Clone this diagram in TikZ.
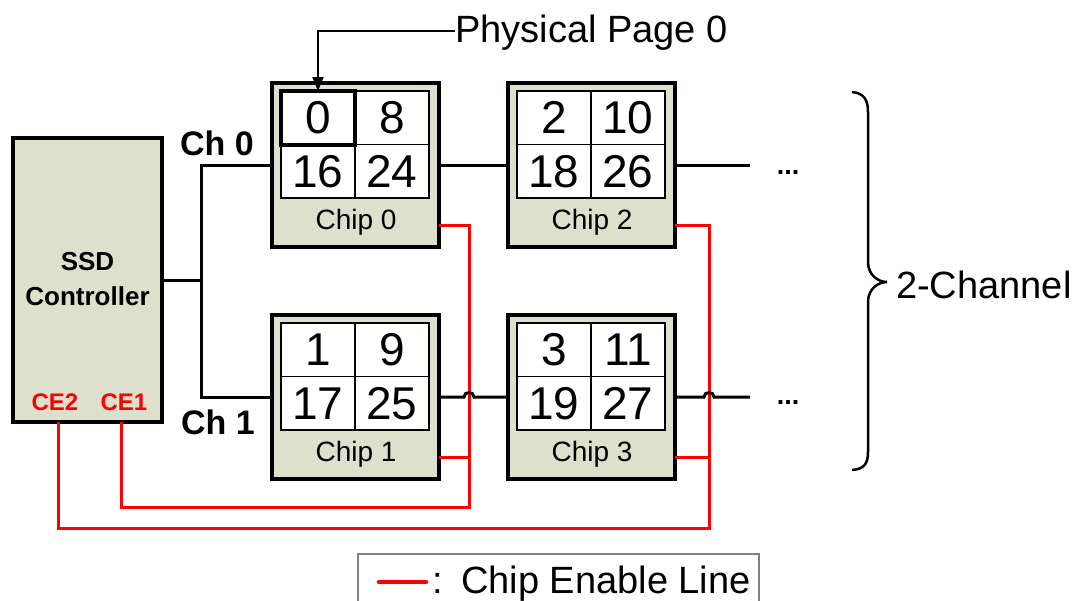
\documentclass[tikz,border=0pt]{standalone}
\usepackage{fontspec}
\setmainfont{Liberation Sans}
\usetikzlibrary{arrows.meta}
\definecolor{chipfill}{RGB}{221,224,204}
\definecolor{cered}{RGB}{255,0,0}
\begin{document}
\begin{tikzpicture}[x=1pt,y=-1pt,
  chipbox/.style={draw,line width=4pt,fill=chipfill,minimum width=167pt,minimum height=164pt,inner sep=0pt,outer sep=0pt,anchor=north west},
  ctrlbox/.style={draw,line width=4pt,fill=chipfill,minimum width=149pt,minimum height=284pt,inner sep=0pt,outer sep=0pt,anchor=north west},
  cell/.style={draw,line width=1.6pt,fill=white,minimum width=74pt,minimum height=53.5pt,inner sep=0pt,outer sep=0pt,font=\fontsize{46}{46}\selectfont},
  chiplabel/.style={inner sep=0pt,anchor=base,font=\fontsize{28}{28}\selectfont},
  boldlabel/.style={inner sep=0pt,font=\fontsize{26}{26}\selectfont\bfseries},
  chlabel/.style={inner sep=0pt,anchor=base west,font=\fontsize{34}{34}\selectfont\bfseries},
  celabel/.style={inner sep=0pt,anchor=base,text=cered,font=\fontsize{24}{24}\selectfont\bfseries},
  biglabel/.style={inner sep=0pt,font=\fontsize{38}{38}\selectfont},
  dotlabel/.style={inner sep=0pt,anchor=base,font=\fontsize{27}{27}\selectfont\bfseries},
  wire/.style={line width=3pt},
  celine/.style={draw=cered,line width=3pt},
]
\useasboundingbox (0,0) rectangle (1082,600);

% controller
\node[ctrlbox] (ctrl) at (13,138) {};
\node[boldlabel,anchor=base] (ssd) at (87.5,270) {SSD};
\node[boldlabel,anchor=base] (ctl) at (87.5,305) {Controller};
\node[celabel] (ce2) at (55,410) {CE2};
\node[celabel] (ce1) at (124,410) {CE1};
\coordinate (ce1pt) at ([xshift=34pt]ctrl.south);
\coordinate (ce2pt) at ([xshift=-29pt]ctrl.south);

% chips
\foreach \n/\X/\Y/\a/\b/\c/\d in {0/272/83/0/8/16/24, 2/508/83/2/10/18/26, 1/272/315/1/9/17/25, 3/508/315/3/11/19/27}{
  \node[chipbox] (c\n) at (\X,\Y) {};
  \node[cell] (c\n-a) at (\X+46,\Y+34.75) {\a};
  \node[cell] (c\n-b) at (\X+120,\Y+34.75) {\b};
  \node[cell] (c\n-c) at (\X+46,\Y+88.25) {\c};
  \node[cell] (c\n-d) at (\X+120,\Y+88.25) {\d};
  \node[chiplabel] (l\n) at (\X+84,\Y+146) {Chip \n};
}
\node[cell,line width=4pt] (hl) at (c0-a) {0};

% physical page label
\node[biglabel,anchor=base west] (pp) at (455,42) {Physical Page 0};
\draw[line width=2pt,-{Triangle[width=11pt,length=14pt]}] ([yshift=1pt]pp.west) -| (hl.north);

% chip enable lines
\coordinate (b1) at (469,507);
\coordinate (b2) at (709,528);
\draw[celine] ([yshift=-60pt]c0.east) -| (b1) -| (ce1pt);
\draw[celine] ([yshift=-60pt]c1.east) -- ([yshift=-60pt]c1.east -| b1);
\draw[celine] ([yshift=-60pt]c2.east) -| (b2) -| (ce2pt);
\draw[celine] ([yshift=-60pt]c3.east) -- ([yshift=-60pt]c3.east -| b2);

% channels
\coordinate (j) at (201,280);
\draw[wire] (ctrl.east) -- (j);
\draw[wire] (c0.west) -| (j) |- (c1.west);
\draw[wire] (c0.east) -- (c2.west);
\coordinate (t0) at (750,165);
\draw[wire] (c2.east) -- (t0);
\coordinate (h1) at (469,397);
\coordinate (h2) at (709,397);
\coordinate (t1) at (750,397);
\draw[wire] (c1.east) -- ([xshift=-5pt]h1) .. controls +(0,-6) and +(0,-6) .. ([xshift=5pt]h1) -- (c3.west);
\draw[wire] (c3.east) -- ([xshift=-5pt]h2) .. controls +(0,-6) and +(0,-6) .. ([xshift=5pt]h2) -- (t1);

\node[chlabel] (ch0) at (180,155) {Ch 0};
\node[chlabel] (ch1) at (181,434) {Ch 1};

\node[dotlabel] (d0) at (788,174) {...};
\node[dotlabel] (d1) at (788,404) {...};

% brace
\draw[line width=2.5pt] (852,92) .. controls (864,93) and (868,100) .. (868,112)
  -- (868,262) .. controls (868,275) and (878,282) .. (887,282)
  .. controls (878,282) and (868,289) .. (868,302)
  -- (868,452) .. controls (868,464) and (864,469) .. (852,470);
\node[biglabel,anchor=base west] (twoch) at (896,298) {2-Channel};

% legend
\draw[draw=gray,line width=1.5pt] (358,604) -- (358,554) -- (759,554) -- (759,604);
\coordinate (ls) at (379,582);
\coordinate (le) at (426,582);
\draw[celine,line width=4.5pt,line cap=round] (ls) -- (le);
\node[biglabel,anchor=base] (colon) at (438,593) {:};
\node[biglabel,anchor=base west] (lg) at (461,593) {Chip Enable Line};
\end{tikzpicture}
\end{document}
